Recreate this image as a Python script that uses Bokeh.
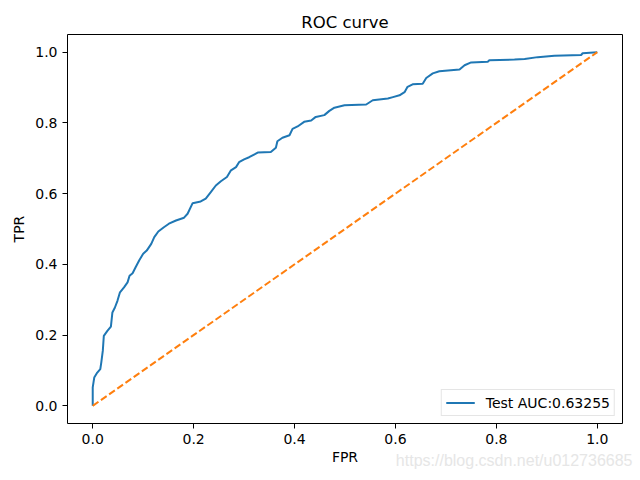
from bokeh.plotting import figure
from bokeh.models import FixedTicker, Legend, LegendItem, Title, Range1d
from bokeh.embed import file_html
from bokeh.resources import INLINE

# ROC curve points
fpr = [0.0, 0.0, 0.003, 0.009, 0.015, 0.017, 0.02, 0.022, 0.029, 0.036, 0.039, 0.044,
       0.049, 0.054, 0.062, 0.069, 0.073, 0.079, 0.085, 0.092, 0.1, 0.107, 0.116,
       0.122, 0.13, 0.141, 0.151, 0.165, 0.181, 0.188, 0.198, 0.214, 0.224, 0.234,
       0.244, 0.254, 0.266, 0.274, 0.284, 0.29, 0.3, 0.31, 0.327, 0.353, 0.363,
       0.366, 0.376, 0.39, 0.396, 0.406, 0.419, 0.433, 0.442, 0.459, 0.469, 0.479,
       0.499, 0.542, 0.555, 0.585, 0.595, 0.608, 0.618, 0.624, 0.634, 0.654, 0.661,
       0.674, 0.687, 0.727, 0.737, 0.75, 0.783, 0.786, 0.836, 0.856, 0.882, 0.915,
       0.968, 0.971, 1.0]
tpr = [0.0, 0.052, 0.08, 0.094, 0.104, 0.123, 0.156, 0.198, 0.212, 0.224, 0.264, 0.278,
       0.297, 0.321, 0.335, 0.349, 0.368, 0.375, 0.392, 0.411, 0.43, 0.439, 0.458,
       0.477, 0.493, 0.505, 0.515, 0.524, 0.532, 0.543, 0.573, 0.578, 0.586, 0.604,
       0.623, 0.635, 0.647, 0.666, 0.675, 0.689, 0.697, 0.703, 0.716, 0.718, 0.73,
       0.748, 0.758, 0.765, 0.783, 0.79, 0.803, 0.807, 0.817, 0.822, 0.834, 0.843,
       0.85, 0.852, 0.864, 0.869, 0.873, 0.878, 0.887, 0.902, 0.909, 0.911, 0.927,
       0.94, 0.946, 0.951, 0.963, 0.971, 0.973, 0.977, 0.979, 0.981, 0.986, 0.99,
       0.992, 0.997, 1.0]
diag_x = [0.0, 1.0]
diag_y = [0.0, 1.0]
ticks = [0.0, 0.2, 0.4, 0.6, 0.8, 1.0]
legend_label = "Test AUC:0.63255"
watermark = "https://blog.csdn.net/u012736685"

FONT = "DejaVu Sans"

p = figure(width=640, height=480, output_backend="svg", toolbar_location=None,
           x_range=Range1d(-0.05, 1.05), y_range=Range1d(-0.05, 1.05),
           title="ROC curve")
p.min_border_left = 67
p.min_border_right = 18
p.min_border_top = 34
p.min_border_bottom = 57

p.title.align = "center"
p.title.text_font = FONT
p.title.text_font_size = "16.5px"
p.title.text_font_style = "normal"
p.title.text_color = "black"
p.title.standoff = 6

p.xgrid.visible = False
p.ygrid.visible = False
p.outline_line_color = "black"
p.outline_line_width = 1
p.outline_line_alpha = 1

for ax in (p.xaxis[0], p.yaxis[0]):
    ax.ticker = FixedTicker(ticks=ticks)
    ax.major_label_overrides = {t: f"{t:.1f}" for t in ticks}
    ax.minor_tick_line_color = None
    ax.major_tick_in = 0
    ax.major_tick_out = 5
    ax.axis_line_color = None
    ax.major_label_text_font = FONT
    ax.major_label_text_font_size = "14px"
    ax.major_label_text_color = "black"
    ax.axis_label_text_font = FONT
    ax.axis_label_text_font_size = "14px"
    ax.axis_label_text_font_style = "normal"
    ax.axis_label_text_color = "black"
    ax.major_tick_line_color = "black"

p.xaxis.axis_label = "FPR"
p.xaxis.axis_label_standoff = 2
p.yaxis.axis_label = "TPR"
p.yaxis.major_label_orientation = "horizontal"

r1 = p.line(fpr, tpr, line_color="#1f77b4", line_width=2)
r2 = p.line(diag_x, diag_y, line_color="#ff7f0e", line_width=2, line_dash="7 3")

legend = Legend(items=[LegendItem(label=legend_label, renderers=[r1])],
                location="bottom_right")
legend.label_text_font = FONT
legend.label_text_font_size = "14px"
legend.label_text_color = "black"
legend.border_line_color = "#cccccc"
legend.margin = 7
legend.padding = 4
legend.spacing = 0
legend.glyph_width = 29
legend.glyph_height = 17
legend.label_height = 17
legend.label_standoff = 11
p.add_layout(legend)

wm = Title(text=watermark, align="right", vertical_align="top",
           text_color="#e6e6e6", text_font="Liberation Sans",
           text_font_size="16px", text_font_style="normal",
           standoff=-32, offset=-10)
p.add_layout(wm, "below")

open("out.html", "w").write(file_html(p, INLINE))
